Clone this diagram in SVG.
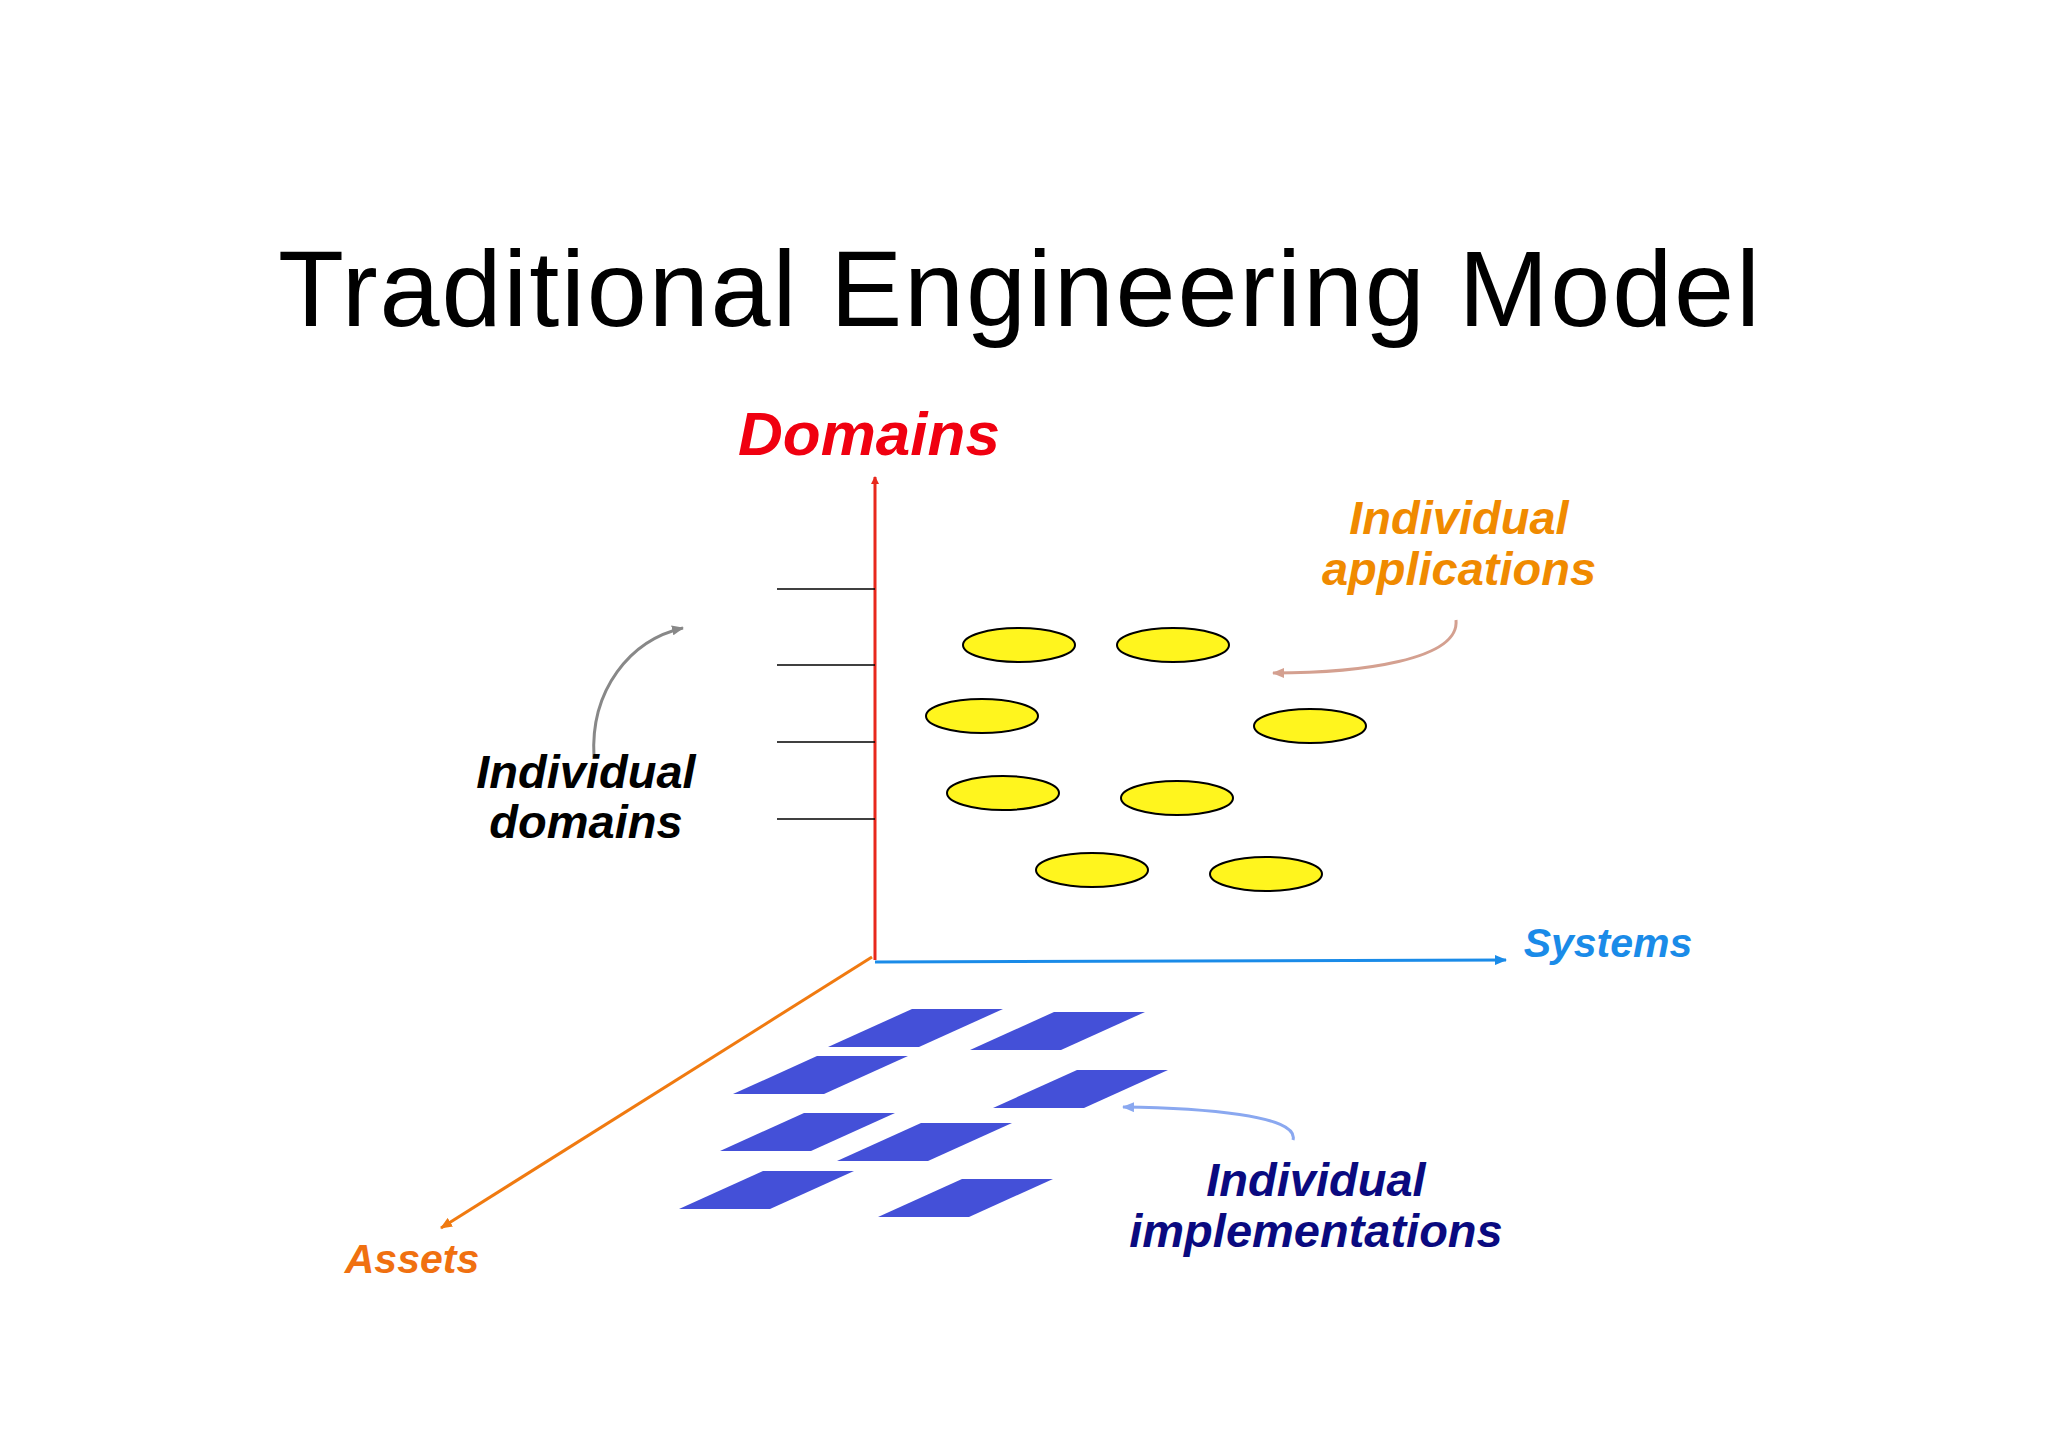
<svg xmlns="http://www.w3.org/2000/svg" width="2048" height="1447" viewBox="0 0 2048 1447">
<defs>
<style>
.lbl{font-family:"Liberation Sans",Arial,sans-serif;font-weight:bold;font-style:italic;text-anchor:middle}
.app{fill:#fff51e;stroke:#000;stroke-width:2}
.impl{fill:#4450d8}
</style>
<marker id="aR" markerWidth="8" markerHeight="8" refX="7" refY="4" orient="auto" markerUnits="userSpaceOnUse"><path d="M0,0 L8,4 L0,8 Z" fill="#e8281c"/></marker>
<marker id="aB" markerWidth="12" markerHeight="10" refX="11" refY="5" orient="auto" markerUnits="userSpaceOnUse"><path d="M0,0 L12,5 L0,10 Z" fill="#1a8be8"/></marker>
<marker id="aO" markerWidth="12" markerHeight="10" refX="11" refY="5" orient="auto" markerUnits="userSpaceOnUse"><path d="M0,0 L12,5 L0,10 Z" fill="#f07a10"/></marker>
<marker id="aG" markerWidth="12" markerHeight="10" refX="11" refY="5" orient="auto" markerUnits="userSpaceOnUse"><path d="M0,0 L12,5 L0,10 Z" fill="#888"/></marker>
<marker id="aP" markerWidth="12" markerHeight="10" refX="11" refY="5" orient="auto" markerUnits="userSpaceOnUse"><path d="M0,0 L12,5 L0,10 Z" fill="#d4a090"/></marker>
<marker id="aL" markerWidth="12" markerHeight="10" refX="11" refY="5" orient="auto" markerUnits="userSpaceOnUse"><path d="M0,0 L12,5 L0,10 Z" fill="#8aa8f0"/></marker>
</defs>
<rect width="2048" height="1447" fill="#fff"/>
<text x="1019" y="326" font-family="Liberation Sans,Arial,sans-serif" font-size="108" text-anchor="middle" textLength="1482" fill="#000">Traditional Engineering Model</text>
<g id="connectors" fill="none">
<line x1="875" y1="960" x2="875" y2="477" stroke="#e8281c" stroke-width="3" marker-end="url(#aR)"/>
<line x1="875" y1="962" x2="1506" y2="960" stroke="#1a8be8" stroke-width="3" marker-end="url(#aB)"/>
<line x1="872" y1="957" x2="441" y2="1228" stroke="#f07a10" stroke-width="3" marker-end="url(#aO)"/>
<g stroke="#000" stroke-width="1.5">
<line x1="777" y1="589" x2="875" y2="589"/><line x1="777" y1="665" x2="875" y2="665"/>
<line x1="777" y1="742" x2="875" y2="742"/><line x1="777" y1="819" x2="875" y2="819"/>
</g>
<path d="M594,757 C590,690 630,640 683,628" stroke="#888" stroke-width="3" marker-end="url(#aG)"/>
<path d="M1456,620 C1460,660 1360,673 1273,673" stroke="#d4a090" stroke-width="3" marker-end="url(#aP)"/>
<path d="M1293,1140 C1300,1115 1200,1108 1123,1107" stroke="#8aa8f0" stroke-width="3" marker-end="url(#aL)"/>
</g>
<g id="apps">
<ellipse class="app" cx="1019" cy="645" rx="56" ry="17"/>
<ellipse class="app" cx="1173" cy="645" rx="56" ry="17"/>
<ellipse class="app" cx="982" cy="716" rx="56" ry="17"/>
<ellipse class="app" cx="1310" cy="726" rx="56" ry="17"/>
<ellipse class="app" cx="1003" cy="793" rx="56" ry="17"/>
<ellipse class="app" cx="1177" cy="798" rx="56" ry="17"/>
<ellipse class="app" cx="1092" cy="870" rx="56" ry="17"/>
<ellipse class="app" cx="1266" cy="874" rx="56" ry="17"/>
</g>
<g id="impls">
<path class="impl" transform="translate(828,1047)" d="M0,0 L84,-38 L175,-38 L91,0 Z"/>
<path class="impl" transform="translate(970,1050)" d="M0,0 L84,-38 L175,-38 L91,0 Z"/>
<path class="impl" transform="translate(733,1094)" d="M0,0 L84,-38 L175,-38 L91,0 Z"/>
<path class="impl" transform="translate(993,1108)" d="M0,0 L84,-38 L175,-38 L91,0 Z"/>
<path class="impl" transform="translate(720,1151)" d="M0,0 L84,-38 L175,-38 L91,0 Z"/>
<path class="impl" transform="translate(837,1161)" d="M0,0 L84,-38 L175,-38 L91,0 Z"/>
<path class="impl" transform="translate(679,1209)" d="M0,0 L84,-38 L175,-38 L91,0 Z"/>
<path class="impl" transform="translate(878,1217)" d="M0,0 L84,-38 L175,-38 L91,0 Z"/>
</g>
<g id="labels">
<text class="lbl" x="869" y="455" font-size="62" fill="#f00010">Domains</text>
<text class="lbl" x="1608" y="957" font-size="41" fill="#1a8be8">Systems</text>
<text class="lbl" x="412" y="1273" font-size="41" fill="#f07010">Assets</text>
<text class="lbl" x="1459" y="534" font-size="47" fill="#f08a00">Individual</text>
<text class="lbl" x="1459" y="585" font-size="47" fill="#f08a00">applications</text>
<text class="lbl" x="586" y="788" font-size="47" fill="#000">Individual</text>
<text class="lbl" x="586" y="838" font-size="47" fill="#000">domains</text>
<text class="lbl" x="1316" y="1196" font-size="47" fill="#0a0a80">Individual</text>
<text class="lbl" x="1316" y="1247" font-size="47" fill="#0a0a80">implementations</text>
</g>
</svg>
